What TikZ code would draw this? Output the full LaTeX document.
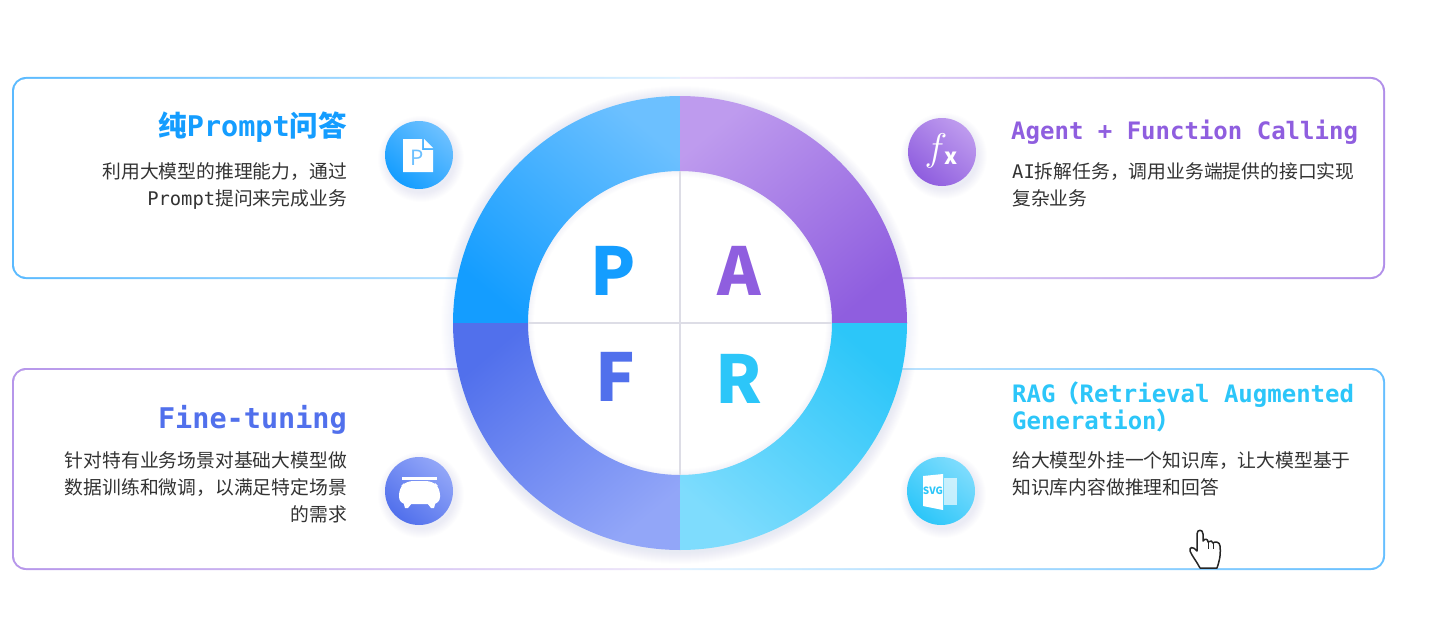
\documentclass[tikz,border=0pt]{standalone}
\usepackage{fontspec}
\setmainfont{DejaVu Sans Mono}
\newfontfamily\cjk{Noto Sans CJK SC}
\usepackage{xcolor}
\usetikzlibrary{positioning, calc}

\definecolor{pblue}{HTML}{149DFF}
\definecolor{plight}{HTML}{6CC0FF}
\definecolor{apurple}{HTML}{8F5EDF}
\definecolor{alight}{HTML}{BE9BEE}
\definecolor{findigo}{HTML}{5170EC}
\definecolor{flight}{HTML}{92A6F8}
\definecolor{rcyan}{HTML}{2CC6F9}
\definecolor{rlight}{HTML}{7EDCFD}
\definecolor{bodytext}{HTML}{333333}
\definecolor{crossgrey}{HTML}{DDDDE6}
\definecolor{haloblue}{HTML}{5A6FD0}

\newcommand{\zhcomma}{\char"FF0C\relax}
\newcommand{\zhopen}{\char"FF08\relax}
\newcommand{\zhclose}{\char"FF09\relax}

\tikzset{
  titletext/.style={inner sep=0pt, font=\bfseries\fontsize{#1}{27}\selectfont},
  bodynode/.style={inner sep=0pt, text=bodytext, font=\fontsize{18.8}{27.2}\selectfont},
  capletter/.style={inner sep=0pt, font=\cjk\bfseries\fontsize{66}{66}\selectfont},
  centerline/.style={draw=crossgrey, line width=1.2pt}
}

% half of a card frame, cut off at the middle of the page
\newcommand{\cardrim}[6]{%
  \begin{scope}
    \clip (#1,0) rectangle (#2,626);
    \shade[left color=#5, right color=#6] [rounded corners=14pt] (#3) rectangle (#4);
  \end{scope}
}

\begin{document}
\begin{tikzpicture}[x=1pt, y=-1pt]
  \useasboundingbox (0,0) rectangle (1438,626);

  % Card frames
  \cardrim{0}{680}{12,77}{720,279}{pblue!70}{pblue!10}
  \cardrim{680}{1438}{640,77}{1385,279}{alight!15}{apurple!70}
  \cardrim{0}{680}{12,368}{720,570}{apurple!65}{apurple!10}
  \cardrim{680}{1438}{640,368}{1385,570}{pblue!10}{pblue!65}
  \foreach \ya/\yb in {79/277, 370/568} {
    \fill[white, rounded corners=12pt] (14,\ya) rectangle (1383,\yb);
  }

  % Ring shadow
  \foreach \r in {1,...,12} {
    \fill[haloblue, opacity=0.007] (680,325) circle (227+\r);
  }
  \fill[white] (680,323) circle (152);

  % Hole shadow
  \foreach \r in {1,...,6} {
    \draw[haloblue, opacity=0.008, line width=2pt*\r] (680,323) circle (152);
  }

  % Ring quarters
  \shade[top color=plight, middle color=pblue!72!plight, bottom color=pblue, shading angle=-40] (680,96) arc (-90:-180:227) -- (528,323) arc (180:270:152) -- cycle;
  \shade[top color=alight, middle color=apurple!60!alight, bottom color=apurple, shading angle=40] (680,96) arc (-90:0:227) -- (832,323) arc (0:-90:152) -- cycle;
  \shade[top color=findigo, middle color=findigo!65!flight, bottom color=flight, shading angle=40] (680,550) arc (90:180:227) -- (528,323) arc (180:90:152) -- cycle;
  \shade[top color=rcyan, middle color=rcyan!75!rlight, bottom color=rlight, shading angle=-40] (680,550) arc (90:0:227) -- (832,323) arc (0:90:152) -- cycle;

  % Centre cross
  \draw[centerline] (528,323) -- (832,323);
  \draw[centerline] (680,171) -- (680,475);

  % Letters
  \node[capletter, text=pblue] (letterP) at (613,271) {P};
  \node[capletter, text=apurple] (letterA) at (739,271) {A};
  \node[capletter, text=findigo] (letterF) at (615,377) {F};
  \node[capletter, text=rcyan] (letterR) at (739,379) {R};

  % Titles
  \node[titletext=28.5, text=pblue, anchor=east] (titleP) at (347,127) {{\cjk 纯}Prompt{\cjk 问答}};
  \node[titletext=24, text=apurple, anchor=west] (titleA) at (1011,132) {Agent + Function Calling};
  \node[titletext=28.5, text=findigo, anchor=east] (titleF) at (347,419.5) {Fine-tuning};
  \node[titletext=24, text=rcyan, anchor=north west, align=left] (titleR) at (1012,382) {RAG{\cjk \zhopen}Retrieval Augmented\\Generation{\cjk \zhclose}};

  % Body texts
  \node[bodynode, anchor=north east, align=right] (bodyP) at (347,162) {{\cjk 利用大模型的推理能力\zhcomma 通过}\\Prompt{\cjk 提问来完成业务}};
  \node[bodynode, anchor=north west, align=left] (bodyA) at (1012,162) {AI{\cjk 拆解任务\zhcomma 调用业务端提供的接口实现}\\{\cjk 复杂业务}};
  \node[bodynode, anchor=north east, align=right] (bodyF) at (347,451) {{\cjk 针对特有业务场景对基础大模型做}\\{\cjk 数据训练和微调\zhcomma 以满足特定场景}\\{\cjk 的需求}};
  \node[bodynode, anchor=north west, align=left] (bodyR) at (1012,451) {{\cjk 给大模型外挂一个知识库\zhcomma 让大模型基于}\\{\cjk 知识库内容做推理和回答}};

  % Icon discs
  \foreach \cx/\cy/\ca/\cb in {419/155/plight/pblue, 942/152/alight/apurple, 419/491/flight/findigo, 941/491/rlight/rcyan} {
    \foreach \r in {1,...,10} {
      \fill[haloblue, opacity=0.008] (\cx+2,\cy+4) circle (33+\r);
    }
    \shade[top color=\ca, bottom color=\cb, shading angle=-40] (\cx,\cy) circle (34);
  }

  % Icon P
  \fill[white] (403,139) -- (422,139) -- (422,150) -- (433,150) -- (433,172) -- (403,172) -- cycle;
  \fill[white] (424,139) -- (433,148) -- (424,148) -- cycle;
  \node[inner sep=0pt, text=plight, font=\cjk\fontsize{21}{21}\selectfont] (iconP) at (417,158) {P};

  % Icon fx
  \node[inner sep=0pt, text=white, scale=1.55, font=\fontsize{24}{24}\selectfont] (iconF) at (936,151) {$f$};
  \node[inner sep=0pt, text=white, font=\cjk\bfseries\fontsize{22}{22}\selectfont] (iconX) at (951,158) {x};

  % Icon pot
  \fill[white] (402,477) rectangle (437,480);
  \fill[white, rounded corners=7pt] (406,481) -- (433,481) -- (440,488) -- (440,504) -- (399,504) -- (399,488) -- cycle;
  \fill[white] (403,501) -- (412,503) -- (408,508) -- (405,508) -- cycle;
  \fill[white] (436,501) -- (427,503) -- (431,508) -- (434,508) -- cycle;

  % Icon svg
  \fill[white] (923,476) -- (943,474) -- (943,510) -- (923,506) -- cycle;
  \fill[white, opacity=0.65] (944,478) rectangle (957,505);
  \node[inner sep=0pt, text=rcyan, font=\cjk\bfseries\fontsize{10}{10}\selectfont] (iconS) at (933,491) {SVG};

  % Hand cursor
  \draw[black!85, line width=1.5pt, fill=white, line join=round]
    (1197,534) .. controls (1197,529) and (1203,529) .. (1203,534) -- (1203,541)
    .. controls (1205,538) and (1208,539) .. (1208,542)
    .. controls (1210,540) and (1213,541) .. (1213,543)
    .. controls (1215,541) and (1220,542) .. (1220,546)
    .. controls (1221,556) and (1219,562) .. (1217,568) -- (1200,568)
    .. controls (1197,562) and (1192,556) .. (1190,551)
    .. controls (1189,547) and (1193,546) .. (1197,551) -- cycle;
  \draw[black!85, line width=1pt] (1208,542) -- (1208,549) (1213,543) -- (1213,549);
\end{tikzpicture}
\end{document}
